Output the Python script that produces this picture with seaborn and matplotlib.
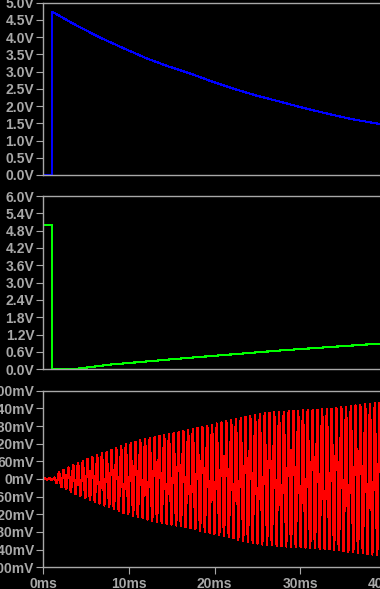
import numpy as np
import pandas as pd
import seaborn as sns
import matplotlib
matplotlib.use("Agg")
import matplotlib.pyplot as plt

# values (time in ms)
blue_t = [0, 0.98, 0.98, 1.05, 1.05, 3.5, 6.6, 9.0, 12.0, 14.5, 17.1, 19.5,
          22.0, 24.8, 27.6, 30.3, 33.0, 36.0, 39.3, 40.0]
blue_v = [0, 0, 3.85, 3.85, 4.74, 4.39, 3.99, 3.72, 3.39, 3.16, 2.95, 2.73,
          2.52, 2.31, 2.13, 1.95, 1.79, 1.62, 1.48, 1.45]

green_t = [0, 1.05, 1.05, 3.4, 7.7, 16.3, 28.0, 39.3, 40.0]
green_v = [5.0, 5.0, 0, 0, 0.16, 0.38, 0.66, 0.89, 0.91]

# envelope of the red oscillation (mV)
env_t = [0, 1.2, 1.9, 3.85, 9.3, 12.5, 25.3, 39.3, 40.0]
env_mv = [3, 3, 25, 53, 115, 142, 222, 260, 262]
carrier_hz = 1790
step_ms = 0.04

v1_ticks = np.arange(0, 5.01, 0.5)
v2_ticks = np.arange(0, 6.01, 0.6)
v3_ticks = np.arange(-300, 301, 60)
t_ticks = [0, 10, 20, 30, 40]

red_t = np.arange(0, 40.01, step_ms)
red_v = np.interp(red_t, env_t, env_mv) * np.sin(2 * np.pi * carrier_hz * red_t / 1000)

sns.set_style("dark")
gray = "#a8a8a8"
plt.rcParams["font.family"] = ["Liberation Sans", "DejaVu Sans"]
plt.rcParams["font.weight"] = "bold"

fig = plt.figure(figsize=(3.8, 5.89), dpi=100, facecolor="black")
W, H = 380, 589
left = 43.3 / W
width = (386 - 43.3) / W
boxes = [(2.7, 175), (196, 369.3), (390.7, 567.3)]
axes = [fig.add_axes([left, 1 - b / H, width, (b - t) / H]) for t, b in boxes]

traces = [
    (blue_t, blue_v, "#0000ff", (0, 5), v1_ticks, lambda v: f"{v:.1f}V"),
    (green_t, green_v, "#00ff00", (0, 6), v2_ticks, lambda v: f"{v:.1f}V"),
    (red_t, red_v, "#ff0000", (-300, 300), v3_ticks, lambda v: f"{v:.0f}mV"),
]

for ax, (t, v, c, lim, ticks, fmt) in zip(axes, traces):
    ax.set_facecolor("black")
    df = pd.DataFrame({"t": t, "v": v})
    sns.lineplot(data=df, x="t", y="v", ax=ax, color=c, linewidth=0.8,
                 estimator=None, sort=False, antialiased=False)
    ax.set_xlim(0, 40)
    ax.set_ylim(*lim)
    ax.set_yticks(ticks)
    ax.set_yticklabels([fmt(x) for x in ticks], fontweight="bold")
    ax.set_xticks(t_ticks)
    ax.set_xlabel("")
    ax.set_ylabel("")
    ax.grid(False)
    for s in ax.spines.values():
        s.set_visible(True)
        s.set_color(gray)
        s.set_linewidth(1.0)
    ax.tick_params(axis="y", colors=gray, length=5, width=0.8, pad=1.5,
                   labelsize=10, left=True)
    ax.tick_params(axis="x", colors=gray, length=5, width=0.8, pad=2,
                   labelsize=10, bottom=True)

for ax in axes[:2]:
    ax.tick_params(axis="x", bottom=False, labelbottom=False)
axes[2].set_xticklabels([f"{x}ms" for x in t_ticks], fontweight="bold")

fig.savefig("out.png", dpi=100, facecolor="black")
